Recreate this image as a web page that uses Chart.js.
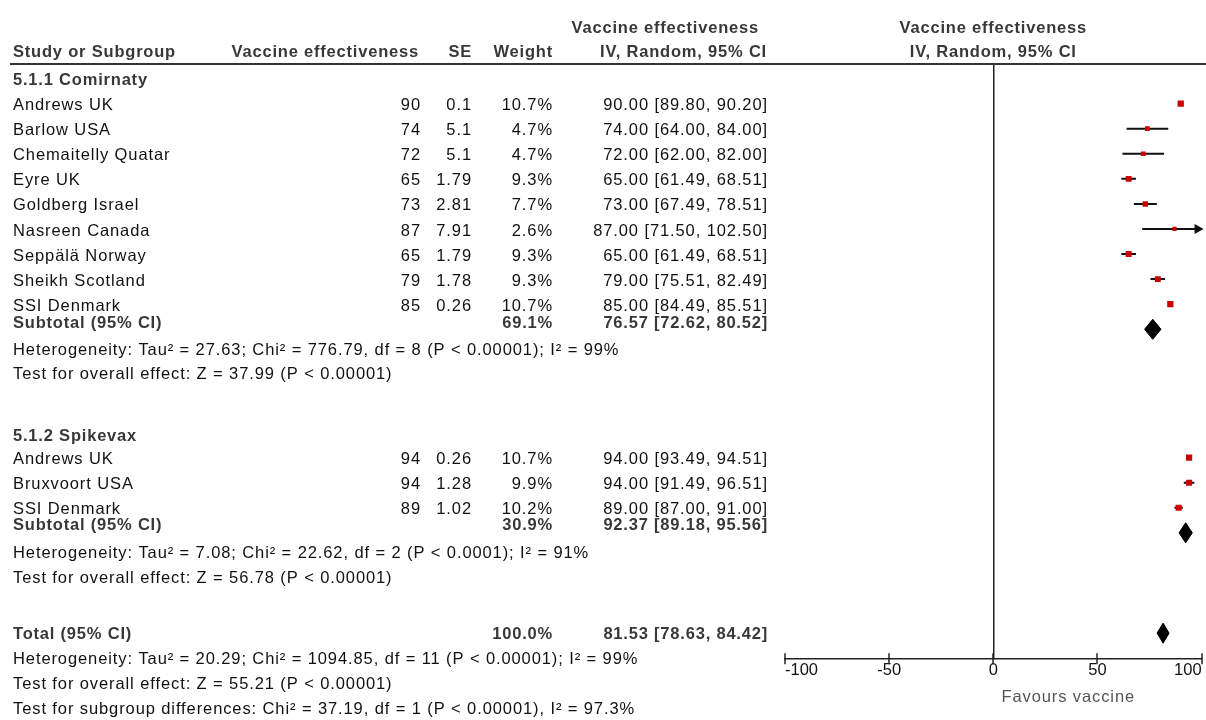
<!DOCTYPE html>
<html><head><meta charset="utf-8">
<script src="https://cdn.jsdelivr.net/npm/chart.js@4"></script>
<style>html,body{margin:0;padding:0;background:#fff;}#wrap{position:relative;width:1206px;height:720px;}canvas{display:block;}</style>
</head><body><div id="wrap"><canvas id="c" width="1206" height="720"></canvas></div>
<script>
// ---- data ----
const studyNames = ['Andrews UK','Barlow USA','Chemaitelly Quatar','Eyre UK','Goldberg Israel','Nasreen Canada','Seppälä Norway','Sheikh Scotland','SSI Denmark','Andrews UK','Bruxvoort USA','SSI Denmark'];
const studyVE = [90,74,72,65,73,87,65,79,85,94,94,89];
const studySE = ['0.1','5.1','5.1','1.79','2.81','7.91','1.79','1.78','0.26','0.26','1.28','1.02'];
const studyWeight = [10.7,4.7,4.7,9.3,7.7,2.6,9.3,9.3,10.7,10.7,9.9,10.2];
const ciLow = [89.80,64.00,62.00,61.49,67.49,71.50,61.49,75.51,84.49,93.49,91.49,87.00];
const ciHigh = [90.20,84.00,82.00,68.51,78.51,102.50,68.51,82.49,85.51,94.51,96.51,91.00];
const studyRow = [1,2,3,4,5,6,7,8,9,15.12,16.12,17.12];

const groupTitles = ['5.1.1 Comirnaty','5.1.2 Spikevax'];
const groupRow = [0, 14.2];

const pooledLabels = ['Subtotal (95% CI)','Subtotal (95% CI)','Total (95% CI)'];
const pooledWeight = [69.1, 30.9, 100.0];
const pooledEst = [76.57, 92.37, 81.53];
const pooledLow = [72.62, 89.18, 78.63];
const pooledHigh = [80.52, 95.56, 84.42];
const pooledRow = [10, 18.12, 22.12];
const pooledTextRow = [9.68, 17.76, 22.1];

const statLines = [
 'Heterogeneity: Tau² = 27.63; Chi² = 776.79, df = 8 (P < 0.00001); I² = 99%',
 'Test for overall effect: Z = 37.99 (P < 0.00001)',
 'Heterogeneity: Tau² = 7.08; Chi² = 22.62, df = 2 (P < 0.0001); I² = 91%',
 'Test for overall effect: Z = 56.78 (P < 0.00001)',
 'Heterogeneity: Tau² = 20.29; Chi² = 1094.85, df = 11 (P < 0.00001); I² = 99%',
 'Test for overall effect: Z = 55.21 (P < 0.00001)',
 'Test for subgroup differences: Chi² = 37.19, df = 1 (P < 0.00001), I² = 97.3%'
];
const statRow = [10.76, 11.72, 18.88, 19.84, 23.1, 24.08, 25.08];

const xTicks = [-100, -50, 0, 50, 100];
const colHeaders = ['Study or Subgroup','Vaccine effectiveness','SE','Weight','IV, Random, 95% CI'];
const effectTitle = 'Vaccine effectiveness';
const favoursLabel = 'Favours vaccine';

// ---- styles ----
const FONT = '"Liberation Sans", Arial, sans-serif';
const NORMAL = '16.5px ' + FONT;
const BOLD = 'bold 16.5px ' + FONT;
const headerRow1 = -2.08, headerRow2 = -1.12;
const TEXT_DY = 2;

const fmt2 = v => v.toFixed(2);

// ---- datasets ----
const datasets = [];
studyNames.forEach((n, i) => {
  datasets.push({
    type: 'line', order: 2,
    data: [{x: ciLow[i], y: studyRow[i]}, {x: ciHigh[i], y: studyRow[i]}],
    borderColor: '#111', borderWidth: 2, pointRadius: 0, fill: false, tension: 0
  });
});
datasets.push({
  type: 'scatter', order: 0,
  data: studyNames.map((n, i) => ({x: studyVE[i], y: studyRow[i]})),
  pointStyle: 'rect',
  pointRadius: studyWeight.map(w => 2.5 + w * 0.18),
  backgroundColor: '#cc0000', borderWidth: 0
});
pooledEst.forEach((e, j) => {
  const r = pooledRow[j], h = 0.4;
  datasets.push({
    type: 'line', order: 1,
    data: [{x: pooledLow[j], y: r}, {x: e, y: r - h}, {x: pooledHigh[j], y: r}, {x: e, y: r + h}, {x: pooledLow[j], y: r}],
    borderColor: '#000', backgroundColor: '#000', borderWidth: 1, pointRadius: 0, fill: 'shape', tension: 0
  });
});

const forestText = {
  id: 'forestText',
  afterDraw(chart) {
    const ctx = chart.ctx, xs = chart.scales.x, ys = chart.scales.y, ca = chart.chartArea;
    const Y = r => ys.getPixelForValue(r) + TEXT_DY;
    const put = (s, x, r, align, font, color) => {
      ctx.font = font; ctx.fillStyle = color; ctx.textAlign = align;
      ctx.letterSpacing = font === BOLD ? '0.8px' : '0.9px';
      ctx.fillText(s, x, Y(r));
    };
    ctx.save();
    ctx.textBaseline = 'middle';
    // header line
    ctx.strokeStyle = '#333'; ctx.lineWidth = 2;
    ctx.beginPath(); ctx.moveTo(10, ca.top); ctx.lineTo(1206, ca.top); ctx.stroke();
    // headers
    const hc = '#383838';
    put(effectTitle, 759, headerRow1, 'right', BOLD, hc);
    put(colHeaders[0], 13, headerRow2, 'left', BOLD, hc);
    put(colHeaders[1], 419, headerRow2, 'right', BOLD, hc);
    put(colHeaders[2], 472, headerRow2, 'right', BOLD, hc);
    put(colHeaders[3], 553, headerRow2, 'right', BOLD, hc);
    put(colHeaders[4], 767, headerRow2, 'right', BOLD, hc);
    const x0 = xs.getPixelForValue(0);
    put(effectTitle, x0, headerRow1, 'center', BOLD, hc);
    put(colHeaders[4], x0, headerRow2, 'center', BOLD, hc);
    // groups
    groupTitles.forEach((g, i) => put(g, 13, groupRow[i], 'left', BOLD, hc));
    // studies
    const tc = '#111';
    studyNames.forEach((n, i) => {
      const r = studyRow[i];
      put(n, 13, r, 'left', NORMAL, tc);
      put(String(studyVE[i]), 421, r, 'right', NORMAL, tc);
      put(studySE[i], 472, r, 'right', NORMAL, tc);
      put(studyWeight[i].toFixed(1) + '%', 553, r, 'right', NORMAL, tc);
      put(fmt2(studyVE[i]) + ' [' + fmt2(ciLow[i]) + ', ' + fmt2(ciHigh[i]) + ']', 768, r, 'right', NORMAL, tc);
    });
    // pooled
    pooledLabels.forEach((l, j) => {
      const r = pooledTextRow[j];
      put(l, 13, r, 'left', BOLD, hc);
      put(pooledWeight[j].toFixed(1) + '%', 553, r, 'right', BOLD, hc);
      put(fmt2(pooledEst[j]) + ' [' + fmt2(pooledLow[j]) + ', ' + fmt2(pooledHigh[j]) + ']', 768, r, 'right', BOLD, hc);
    });
    // stats
    statLines.forEach((s, k) => put(s, 13, statRow[k], 'left', NORMAL, tc));
    // axis tick marks crossing the axis
    ctx.strokeStyle = '#222'; ctx.lineWidth = 1.5;
    xTicks.forEach(t => {
      const px = Math.round(xs.getPixelForValue(t));
      ctx.beginPath(); ctx.moveTo(px, ca.bottom - 6); ctx.lineTo(px, ca.bottom + 5); ctx.stroke();
    });
    // arrows for CIs beyond the axis
    ctx.fillStyle = '#111';
    ciHigh.forEach((h, i) => {
      if (h > xs.max) {
        const px = xs.getPixelForValue(xs.max), py = ys.getPixelForValue(studyRow[i]);
        ctx.beginPath(); ctx.moveTo(px + 2, py); ctx.lineTo(px - 7, py - 5); ctx.lineTo(px - 7, py + 5); ctx.closePath(); ctx.fill();
      }
    });
    // favours label
    ctx.letterSpacing = '0.9px';
    ctx.font = '16.5px ' + FONT; ctx.fillStyle = '#555'; ctx.textAlign = 'center';
    ctx.fillText(favoursLabel, xs.getPixelForValue(36), 697);
    ctx.restore();
  }
};

new Chart(document.getElementById('c'), {
  type: 'scatter',
  data: { datasets },
  options: {
    responsive: false, animation: false, events: [],
    layout: { padding: { left: 785, right: 2, top: 64, bottom: 39 } },
    plugins: { legend: { display: false }, tooltip: { enabled: false } },
    scales: {
      x: {
        type: 'linear', min: -100, max: 100,
        afterBuildTicks: ax => { ax.ticks = xTicks.map(v => ({ value: v })); },
        ticks: { align: 'inner', padding: 1, color: '#111', font: { family: FONT, size: 16.5 }, callback: v => String(v) },
        grid: { display: true, drawTicks: false, lineWidth: 1.5, color: c => (c.tick && c.tick.value === 0) ? '#222' : 'rgba(0,0,0,0)' },
        border: { display: true, color: '#222', width: 1.5 }
      },
      y: { type: 'linear', reverse: true, min: -0.58, max: 23.16, display: false }
    }
  },
  plugins: [forestText]
});
</script></body></html>
